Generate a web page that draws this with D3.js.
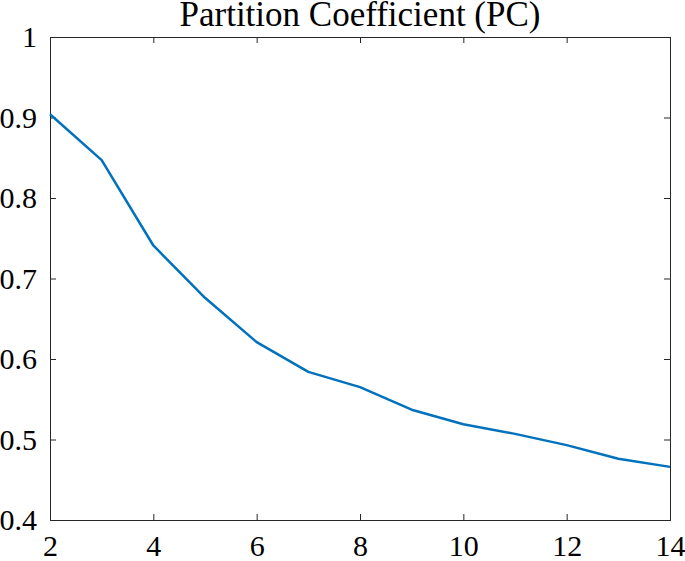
<!DOCTYPE html>
<html><head><meta charset="utf-8">
<script src="https://cdn.jsdelivr.net/npm/d3@7"></script>
<style>body{margin:0;background:#fff}svg{display:block}</style>
</head><body>
<script>
const xValues = [2,3,4,5,6,7,8,9,10,11,12,13,14];
const pcValues = [0.904,0.847,0.741,0.676,0.621,0.584,0.565,0.537,0.519,0.507,0.493,0.476,0.466];
const xTicks = [2,4,6,8,10,12,14];
const yTicks = [0.4,0.5,0.6,0.7,0.8,0.9,1];
const title = "Partition Coefficient (PC)";

const W=685,H=561;
const m={l:50,r:15,t:37,b:41};
const svg=d3.select("body").append("svg").attr("width",W).attr("height",H);
const x=d3.scaleLinear().domain([2,14]).range([m.l,W-m.r]);
const y=d3.scaleLinear().domain([0.4,1]).range([H-m.b,m.t]);
const font="'Liberation Serif','Times New Roman',serif";
const axCol="#262626";

function style(g){
  g.select(".domain").attr("stroke",axCol).attr("stroke-width",1);
  g.selectAll(".tick line").attr("stroke",axCol).attr("stroke-width",1);
  g.selectAll("text").attr("font-family",font).attr("font-size",30).attr("fill","#000");
}
const tl=-6;
svg.append("g").attr("transform",`translate(0,${H-m.b})`)
  .call(d3.axisBottom(x).tickValues(xTicks).tickSize(tl).tickPadding(15).tickFormat(d3.format("d")))
  .call(style);
svg.append("g").attr("transform",`translate(0,${m.t})`)
  .call(d3.axisTop(x).tickValues(xTicks).tickSize(tl).tickFormat(""))
  .call(style);
svg.append("g").attr("transform",`translate(${m.l},0)`)
  .call(d3.axisLeft(y).tickValues(yTicks).tickSize(tl).tickPadding(13).tickFormat(d=>d===1?"1":d3.format(".1f")(d)))
  .call(style);
svg.append("g").attr("transform",`translate(${W-m.r},0)`)
  .call(d3.axisRight(y).tickValues(yTicks).tickSize(tl).tickFormat(""))
  .call(style);

const line=d3.line().x((d,i)=>x(xValues[i])).y(d=>y(d));
svg.append("path").datum(pcValues).attr("d",line).attr("fill","none")
  .attr("stroke","#0072BD").attr("stroke-width",2.5).attr("stroke-linejoin","round");

svg.append("text").attr("x",(m.l+W-m.r)/2).attr("y",26).attr("text-anchor","middle")
  .attr("font-family",font).attr("font-size",35).attr("fill","#000").text(title);
</script>
</body></html>
